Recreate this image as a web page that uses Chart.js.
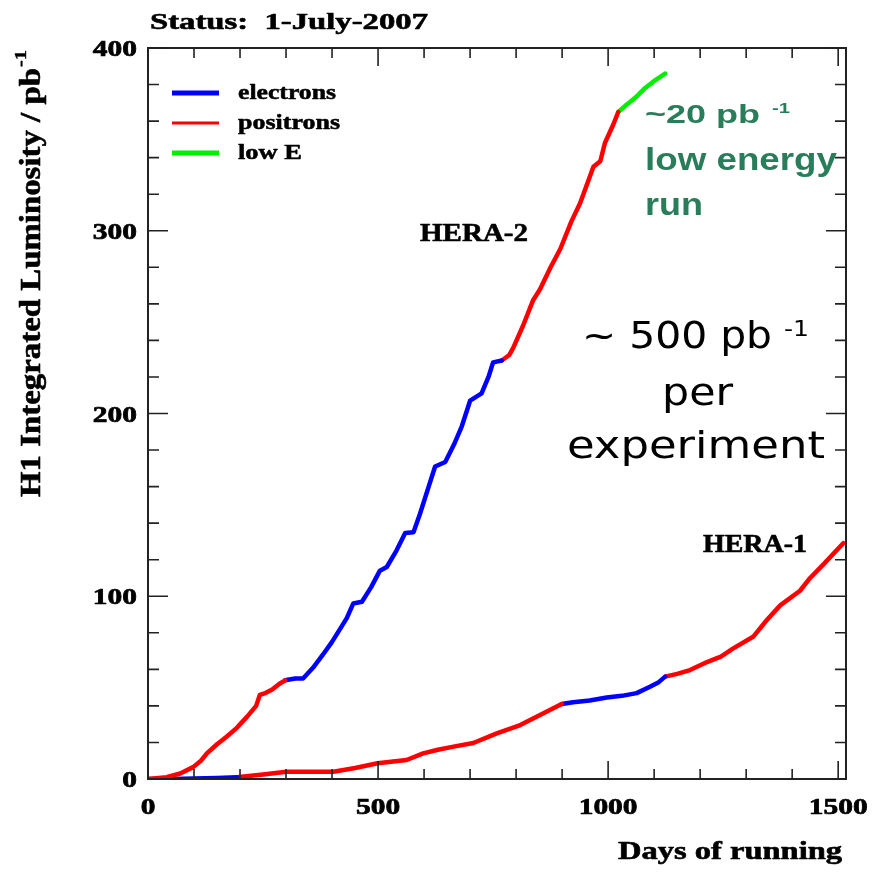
<!DOCTYPE html>
<html>
<head>
<meta charset="utf-8">
<script src="https://cdn.jsdelivr.net/npm/chart.js@4.4.1/dist/chart.umd.min.js"></script>
<style>
  body { margin: 0; background: #fff; }
</style>
</head>
<body>
<canvas id="chart" width="873" height="872"></canvas>
<script>
// HERA-2 (2003-2007)
const h2PosDaysA = [0, 40, 70, 98, 115, 128, 150, 170, 193, 215, 235, 243, 255, 270, 285, 298];
const h2PosLumiA = [0, 1, 3, 6.5, 10, 14, 19, 23, 28, 34, 40, 46, 47, 49, 52, 54];
const h2EleDays = [298, 320, 337, 359, 380, 400, 432, 446, 465, 485, 504, 519, 540, 559, 577, 591, 610, 624, 646, 665, 682, 700, 725, 740, 750, 769];
const h2EleLumi = [54, 55, 55, 61, 68, 75, 88, 96, 97, 105, 114, 116, 125, 134.6, 135, 145, 160, 171, 173.5, 183, 193, 207, 211, 220, 228, 229];
const h2PosDaysB = [769, 785, 794, 815, 837, 852, 875, 896, 920, 939, 955, 968, 983, 993, 1011, 1022];
const h2PosLumiB = [229, 232, 236, 248, 262, 268, 280, 290, 305, 315, 326, 335, 338, 348, 358, 365];
const h2LowEDays = [1022, 1040, 1060, 1080, 1100, 1124];
const h2LowELumi = [365, 369, 373, 378, 382, 386];

// HERA-1 (1993-2000)
const h1EleDaysA = [0, 50, 100, 150, 193];
const h1EleLumiA = [0, 0, 0.3, 0.6, 1];
const h1PosDaysA = [193, 250, 301, 350, 403, 450, 499, 562, 598, 630, 664, 707, 758, 809, 852, 899];
const h1PosLumiA = [1, 2.5, 4, 4, 4, 6, 8.6, 10.4, 14, 16, 17.7, 19.7, 25, 29.5, 35, 41];
const h1EleDaysB = [899, 924, 960, 997, 1030, 1062, 1091, 1110, 1124];
const h1EleLumiB = [41, 42, 43, 44.6, 45.5, 47, 50.5, 53, 56];
const h1PosDaysB = [1124, 1150, 1178, 1215, 1245, 1272, 1316, 1345, 1374, 1417, 1439, 1470, 1511];
const h1PosLumiB = [56, 57.5, 59.6, 64, 67, 71.5, 78, 87, 95, 103, 110, 118, 129];

const xTickLabels = [0, 500, 1000, 1500];
const yTickLabels = [0, 100, 200, 300, 400];
const legendNames = ['electrons', 'positrons', 'low E'];

const BLUE = '#0000ff', RED = '#ff0000', GREEN = '#00ee00';
const legendColors = [BLUE, RED, GREEN];

const segments = [
  [h2PosDaysA, h2PosLumiA, RED],
  [h2EleDays, h2EleLumi, BLUE],
  [h2PosDaysB, h2PosLumiB, RED],
  [h2LowEDays, h2LowELumi, GREEN],
  [h1EleDaysA, h1EleLumiA, BLUE],
  [h1PosDaysA, h1PosLumiA, RED],
  [h1EleDaysB, h1EleLumiB, BLUE],
  [h1PosDaysB, h1PosLumiB, RED]
];

const datasets = segments.map(([d, l, c]) => ({
  data: d.map((x, i) => ({ x: x, y: l[i] })),
  borderColor: c,
  borderWidth: 4.5,
  borderJoinStyle: 'round',
  borderCapStyle: 'round',
  showLine: true,
  pointRadius: 0,
  tension: 0
}));

const SERIF = '"Liberation Serif", "Times New Roman", serif';
const SANS = '"Liberation Sans", Arial, sans-serif';
const COMIC = '"DejaVu Sans", "Noto Sans", sans-serif';
const GREEN_TXT = '#2a7d5a';

// draw text stretched horizontally by sx, optional outline to make it heavier
function stretchText(ctx, text, x, y, font, sx, align, heavy) {
  ctx.save();
  ctx.font = font;
  const m = ctx.measureText(text).width;
  ctx.translate(x, y);
  ctx.scale(sx, 1);
  let x0 = 0;
  if (align === 'center') x0 = -m / 2;
  if (align === 'right') x0 = -m;
  ctx.textAlign = 'left';
  ctx.fillText(text, x0, 0);
  if (heavy) {
    ctx.strokeStyle = ctx.fillStyle;
    ctx.lineWidth = heavy;
    ctx.lineJoin = 'round';
    ctx.strokeText(text, x0, 0);
  }
  ctx.restore();
}

// draw text so that it fills width w
function fitText(ctx, text, x, y, font, w, align, heavy) {
  ctx.save();
  ctx.font = font;
  const m = ctx.measureText(text).width;
  ctx.restore();
  stretchText(ctx, text, x, y, font, w / m, align, heavy);
}

const decor = {
  id: 'decor',
  afterDraw(chart) {
    const ctx = chart.ctx;
    const a = chart.chartArea;
    const xs = chart.scales.x, ys = chart.scales.y;
    ctx.save();
    ctx.fillStyle = '#000';
    ctx.strokeStyle = '#222';

    // frame
    ctx.lineWidth = 2;
    ctx.strokeRect(a.left, a.top, a.right - a.left, a.bottom - a.top);

    // inward ticks
    ctx.lineWidth = 1.6;
    ctx.beginPath();
    for (let v = 0; v <= xs.max; v += 100) {
      const px = xs.getPixelForValue(v);
      const len = v % 500 === 0 ? 18 : 10;
      ctx.moveTo(px, a.bottom); ctx.lineTo(px, a.bottom - len);
      ctx.moveTo(px, a.top); ctx.lineTo(px, a.top + len);
    }
    for (let v = 0; v <= ys.max; v += 20) {
      const py = ys.getPixelForValue(v);
      const len = v % 100 === 0 ? 20 : 11;
      ctx.moveTo(a.left, py); ctx.lineTo(a.left + len, py);
      ctx.moveTo(a.right, py); ctx.lineTo(a.right - len, py);
    }
    ctx.stroke();

    // tick labels
    ctx.textBaseline = 'alphabetic';
    xTickLabels.forEach(v => {
      stretchText(ctx, String(v), xs.getPixelForValue(v), 814, 'bold 23px ' + SERIF, 1.28, 'center', 0.7);
    });
    yTickLabels.forEach(v => {
      stretchText(ctx, String(v), a.left - 11, ys.getPixelForValue(v) + 8, 'bold 23px ' + SERIF, 1.28, 'right', 0.7);
    });

    // titles
    fitText(ctx, 'Status:  1-July-2007', 150, 29, 'bold 24px ' + SERIF, 278, 'left', 0.6);
    fitText(ctx, 'Days of running', 842, 859, 'bold 25px ' + SERIF, 224, 'right', 0.6);

    ctx.save();
    ctx.translate(40, 497);
    ctx.rotate(-Math.PI / 2);
    fitText(ctx, 'H1 Integrated Luminosity / pb', 0, 0, 'bold 30px ' + SERIF, 429, 'left', 0.6);
    fitText(ctx, '-1', 430, -14, 'bold 17px ' + SERIF, 17, 'left', 0.4);
    ctx.restore();

    // legend
    const ly = [93, 123, 153];
    const lw = [5, 3, 5];
    const lwText = [98, 102, 64];
    legendNames.forEach((name, i) => {
      ctx.strokeStyle = legendColors[i];
      ctx.lineWidth = lw[i];
      ctx.beginPath();
      ctx.moveTo(172, ly[i]); ctx.lineTo(219, ly[i]);
      ctx.stroke();
      ctx.fillStyle = '#000';
      fitText(ctx, name, 238, ly[i] + 6, 'bold 21px ' + SERIF, lwText[i], 'left', 0.5);
    });

    // run labels
    fitText(ctx, 'HERA-2', 420, 241, 'bold 26px ' + SERIF, 108, 'left', 0.6);
    fitText(ctx, 'HERA-1', 703, 552, 'bold 26px ' + SERIF, 104, 'left', 0.6);

    // comment text
    fitText(ctx, '~ 500 pb', 582, 348, '38px ' + COMIC, 190, 'left');
    fitText(ctx, '-1', 784, 336, '22px ' + COMIC, 25, 'left');
    fitText(ctx, 'per', 662, 405, '38px ' + COMIC, 71, 'left');
    fitText(ctx, 'experiment', 567, 458, '38px ' + COMIC, 258, 'left');

    ctx.fillStyle = GREEN_TXT;
    fitText(ctx, '~20 pb', 645, 123, 'bold 25px ' + SANS, 115, 'left');
    fitText(ctx, '-1', 772, 113, 'bold 15px ' + SANS, 18, 'left');
    fitText(ctx, 'low energy', 645, 170, 'bold 31px ' + SANS, 192, 'left');
    fitText(ctx, 'run', 645, 215, 'bold 31px ' + SANS, 58, 'left');

    ctx.restore();
  }
};

new Chart(document.getElementById('chart'), {
  type: 'scatter',
  data: { datasets: datasets },
  options: {
    responsive: false,
    animation: false,
    layout: { padding: { left: 148, right: 27, top: 48, bottom: 93 } },
    plugins: { legend: { display: false }, tooltip: { enabled: false } },
    scales: {
      x: { type: 'linear', min: 0, max: 1517, display: false },
      y: { type: 'linear', min: 0, max: 400, display: false }
    }
  },
  plugins: [decor]
});
</script>
</body>
</html>
